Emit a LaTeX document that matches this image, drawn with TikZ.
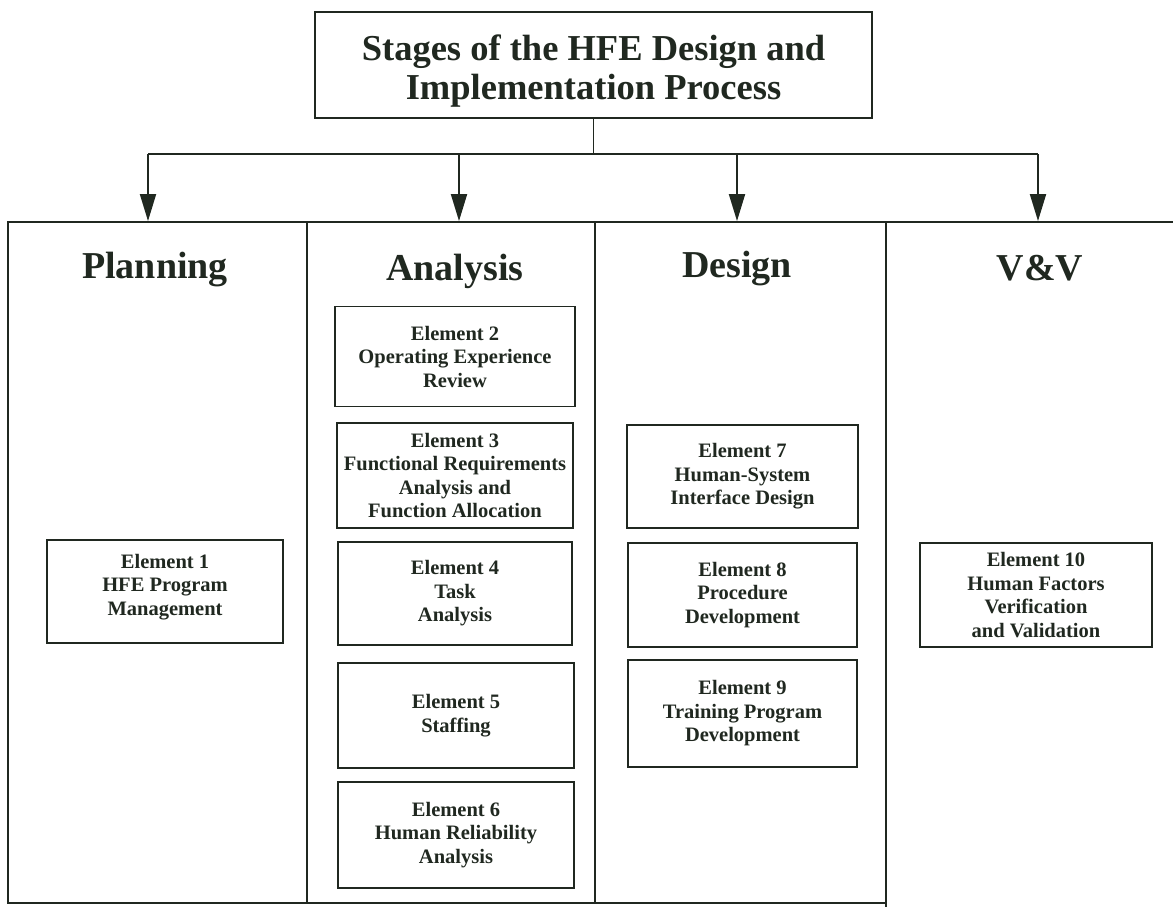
\documentclass[tikz,border=0pt]{standalone}
\usepackage{fontspec}
\setmainfont{Liberation Serif}
\usetikzlibrary{arrows.meta}
\definecolor{ink}{RGB}{32,40,32}
\tikzset{
  line/.style={draw=ink, line width=1.9pt},
  ebox/.style={line, rectangle, inner sep=0pt, text=ink, align=center,
    font=\bfseries\fontsize{20.5}{23.5}\selectfont},
  col/.style={line, rectangle, inner sep=0pt},
  head/.style={text=ink, anchor=base, inner sep=0pt, font=\bfseries\fontsize{38}{44}\selectfont},
  arr/.style={line, -{Triangle[length=27pt,width=16pt]}},
}
\begin{document}
\begin{tikzpicture}[x=1pt,y=-1pt]
\useasboundingbox (0,0) rectangle (1173,906);
\fill[white] (0,0) rectangle (1173,906);
% title
\node[line, rectangle, inner sep=0pt, minimum width=557pt, minimum height=106pt, text=ink, align=center,
  font=\bfseries\fontsize{36.5}{39}\selectfont] (title) at (593.5,65) {\rule{0pt}{38pt}Stages of the HFE Design and\\Implementation Process};
% columns
\node[col, minimum width=299pt, minimum height=681pt] (c1) at (157.5,562.5) {};
\node[col, minimum width=288pt, minimum height=681pt] (c2) at (451,562.5) {};
\node[col, minimum width=291pt, minimum height=681pt] (c3) at (740.5,562.5) {};
\node[col, minimum width=320pt, minimum height=700pt] (c4) at (1046,572) {};
% headers
\node[head] (h1) at (155,278) {Planning};
\node[head] (h2) at (455,280) {Analysis};
\node[head] (h3) at (737,277) {Design};
\node[head] (h4) at (1040,280) {V\&V};
% connectors
\coordinate (j) at (595,154);
\coordinate (b1) at (148,154);
\coordinate (b2) at (459,154);
\coordinate (b3) at (737,154);
\coordinate (b4) at (1038,154);
\draw[line] (title.south) -- (title.south |- j);
\draw[line] (b1) -- (b4);
\draw[arr] (b1) -- (b1 |- c1.north);
\draw[arr] (b2) -- (b2 |- c2.north);
\draw[arr] (b3) -- (b3 |- c3.north);
\draw[arr] (b4) -- (b4 |- c1.north);
% elements
\node[ebox, minimum width=236pt, minimum height=103pt] (e1) at (165,591.5) {Element 1\\HFE Program\\Management\rule[-14pt]{0pt}{14pt}};
\node[ebox, minimum width=240pt, minimum height=100pt] (e2) at (455,356.5) {Element 2\\Operating Experience\\Review};
\node[ebox, minimum width=236pt, minimum height=105pt] (e3) at (455,475.5) {Element 3\\Functional Requirements\\Analysis and\\Function Allocation};
\node[ebox, minimum width=234pt, minimum height=103pt] (e4) at (455,593.5) {Element 4\\Task\\Analysis};
\node[ebox, minimum width=236pt, minimum height=105pt] (e5) at (456,715.5) {Element 5\\Staffing};
\node[ebox, minimum width=236pt, minimum height=106pt] (e6) at (456,835) {Element 6\\Human Reliability\\Analysis};
\node[ebox, minimum width=231pt, minimum height=103pt] (e7) at (742.5,476.5) {Element 7\\Human-System\\Interface Design};
\node[ebox, minimum width=229pt, minimum height=104pt] (e8) at (742.5,595) {Element 8\\Procedure\\Development};
\node[ebox, minimum width=229pt, minimum height=107pt] (e9) at (742.5,713.5) {Element 9\\Training Program\\Development};
\node[ebox, minimum width=232pt, minimum height=104pt] (e10) at (1036,595) {Element 10\\Human Factors\\Verification\\and Validation};
\end{tikzpicture}
\end{document}
